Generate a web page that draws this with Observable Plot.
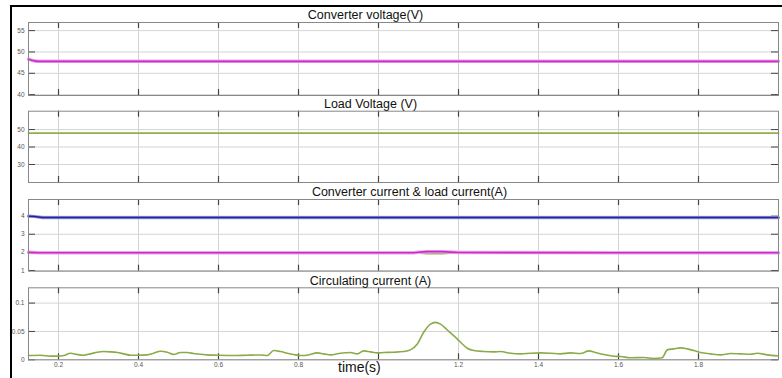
<!DOCTYPE html>
<html><head><meta charset="utf-8">
<script src="https://cdn.jsdelivr.net/npm/d3@7"></script>
<script src="https://cdn.jsdelivr.net/npm/@observablehq/plot@0.6"></script>
<style>
body{margin:0;background:#fff;}
#wrap{position:relative;width:782px;height:378px;overflow:hidden;font-family:"Liberation Sans",Arial,sans-serif;background:#fff;}
#wrap svg{position:absolute;left:0;}
#border{position:absolute;left:10px;top:5px;right:0;bottom:0;border-top:2px solid #000;border-left:2px solid #000;pointer-events:none;}
#xlabel{position:absolute;left:338px;top:359px;font-size:14px;color:#111;}
</style></head>
<body><div id="wrap"><div id="border"></div></div>
<script>
// ---- data ----
const timeTicks = [0.2, 0.4, 0.6, 0.8, 1.0, 1.2, 1.4, 1.6, 1.8];
const timeTickLabels = ["0.2", "0.4", "0.6", "0.8", "", "1.2", "1.4", "1.6", "1.8"];
const titles = ["Converter voltage(V)", "Load Voltage (V)", "Converter current & load current(A)", "Circulating current (A)"];
const xLabel = "time(s)";

const convVoltT = [0.125, 0.135, 0.15, 2.0];
const convVoltV = [48.3, 48.0, 47.8, 47.8];
const convVoltTicks = [40, 45, 50, 55];

const loadVoltT = [0.125, 2.0];
const loadVoltV = [48, 48];
const loadVoltTicks = [30, 40, 50];

const convCurT = [0.125, 0.14, 0.16, 2.0];
const convCurV = [4.0, 3.98, 3.92, 3.92];
const loadCurT = [0.125, 0.15, 1.08, 1.12, 1.16, 1.2, 2.0];
const loadCurMagV = [2.0, 1.98, 1.98, 2.04, 2.04, 1.99, 1.98];
const loadCurGreenV = [1.97, 1.97, 1.97, 1.93, 1.92, 1.97, 1.97];
const curTicks = [1, 2, 3, 4];

const circT = [0.125,0.155,0.18,0.197,0.213,0.23,0.247,0.263,0.28,0.297,0.313,0.33,0.347,0.363,0.38,0.397,0.422,0.438,0.455,0.472,0.488,0.505,0.522,0.538,0.555,0.572,0.597,0.638,0.672,0.705,0.722,0.738,0.755,0.772,0.788,0.805,0.822,0.847,0.863,0.88,0.905,0.93,0.947,0.963,0.98,0.997,1.013,1.038,1.063,1.08,1.097,1.113,1.13,1.1425,1.155,1.172,1.188,1.205,1.222,1.238,1.263,1.288,1.305,1.33,1.355,1.38,1.405,1.43,1.455,1.48,1.505,1.526,1.5425,1.563,1.588,1.605,1.63,1.663,1.688,1.709,1.722,1.738,1.755,1.772,1.788,1.805,1.83,1.855,1.88,1.905,1.93,1.947,1.972,1.997];
const circV = [0.0075,0.0081,0.0064,0.0064,0.0075,0.0116,0.0093,0.0081,0.0105,0.0134,0.0146,0.014,0.0128,0.0105,0.0081,0.0081,0.0087,0.0116,0.0152,0.0134,0.0093,0.0128,0.0128,0.011,0.0099,0.0087,0.0081,0.0075,0.0081,0.0085,0.0075,0.0163,0.0146,0.0116,0.0093,0.0075,0.0081,0.0122,0.0105,0.0087,0.0116,0.0128,0.0105,0.0158,0.014,0.0122,0.0128,0.0134,0.0146,0.0175,0.028,0.0485,0.063,0.066,0.063,0.0526,0.0426,0.031,0.0204,0.0163,0.0146,0.014,0.0146,0.0116,0.0105,0.0116,0.0122,0.0116,0.0105,0.0122,0.011,0.0158,0.0128,0.0093,0.0064,0.0058,0.0035,0.004,0.0023,0.0035,0.0175,0.0193,0.021,0.0193,0.0163,0.0128,0.0105,0.0087,0.011,0.0105,0.0099,0.0116,0.0087,0.007];
const circTicks = [0, 0.05, 0.1];
const circTickLabels = ["0", "0.05", "0.1"];

const zip = (t, v) => t.map((x, i) => ({t: x, v: v[i]}));

const W = 782, ML = 28, MR = 4, PW = W - ML - MR;
const xDomain = [0.125, 2.0];

function panel({svgTop, svgHeight, mt, mb, yDomain, yTicks, yFmt, title, titleX, titleY, lines, showX}) {
  const ph = svgHeight - mt - mb;
  const marks = [
    Plot.gridX(timeTicks, {stroke: "#d4d4d4", strokeOpacity: 1}),
    Plot.gridY(yTicks, {stroke: "#d4d4d4", strokeOpacity: 1}),
    Plot.tickX(timeTicks, {x: d => d, insetTop: ph - 6, stroke: "#444", strokeWidth: 1.2}),
    Plot.tickX(timeTicks, {x: d => d, insetBottom: ph - 6, stroke: "#444", strokeWidth: 1.2}),
    Plot.tickY(yTicks, {y: d => d, insetRight: PW - 7, stroke: "#444"}),
    Plot.tickY(yTicks, {y: d => d, insetLeft: PW - 7, stroke: "#444"}),
    ...lines,
    Plot.frame({stroke: "#888"}),
    Plot.axisY(yTicks, {tickSize: 0, tickPadding: 4, fontSize: 6.5, tickFormat: yFmt, fill: "#555", label: null}),
    Plot.text([title], {frameAnchor: "top", dx: titleX - (ML + PW / 2), dy: titleY - mt, lineAnchor: "middle", fontSize: 12.5, fill: "#111", fontFamily: "Liberation Sans, Arial, sans-serif"})
  ];
  if (showX) {
    marks.push(Plot.axisX(timeTicks, {tickSize: 0, tickPadding: 3, fontSize: 6.5, fill: "#555", label: null, tickFormat: d => timeTickLabels[timeTicks.indexOf(d)]}));
  }
  const svg = Plot.plot({
    width: W, height: svgHeight,
    marginLeft: ML, marginRight: MR, marginTop: mt, marginBottom: mb,
    x: {domain: xDomain, axis: null, label: null},
    y: {domain: yDomain, axis: null, label: null},
    style: {fontFamily: "Liberation Sans, Arial, sans-serif", background: "transparent", overflow: "visible"},
    marks
  });
  svg.style.top = svgTop + "px";
  return svg;
}

const wrap = document.getElementById("wrap");
const border = document.getElementById("border");

const magenta = (data) => [
  Plot.line(data, {x: "t", y: "v", stroke: "#eaa6ea", strokeWidth: 3.5, curve: "monotone-x"}),
  Plot.line(data, {x: "t", y: "v", stroke: "#cc2ccc", strokeWidth: 1.6, curve: "monotone-x"})
];

const p1 = panel({svgTop: 0, svgHeight: 98, mt: 22, mb: 3, yDomain: [39.8, 56.9], yTicks: convVoltTicks, yFmt: d => String(d),
  title: titles[0], titleX: 365, titleY: 14, showX: false,
  lines: magenta(zip(convVoltT, convVoltV))});

const p2 = panel({svgTop: 98, svgHeight: 88, mt: 12.7, mb: 4, yDomain: [19.7, 60.5], yTicks: loadVoltTicks, yFmt: d => String(d),
  title: titles[1], titleX: 370, titleY: 103 - 98, showX: false,
  lines: [Plot.line(zip(loadVoltT, loadVoltV), {x: "t", y: "v", stroke: "#8fb04c", strokeWidth: 1.8})]});

const p3 = panel({svgTop: 186, svgHeight: 89, mt: 13, mb: 4.3, yDomain: [0.96, 4.92], yTicks: curTicks, yFmt: d => String(d),
  title: titles[2], titleX: 409, titleY: 191 - 186, showX: false,
  lines: [
    Plot.line(zip(convCurT, convCurV), {x: "t", y: "v", stroke: "#9090d8", strokeWidth: 3.2}),
    Plot.line(zip(convCurT, convCurV), {x: "t", y: "v", stroke: "#22229a", strokeWidth: 1.5}),
    Plot.line(zip(loadCurT, loadCurGreenV), {x: "t", y: "v", stroke: "#8fb04c", strokeWidth: 1.5, curve: "monotone-x"}),
    ...magenta(zip(loadCurT, loadCurMagV))
  ]});

const p4 = panel({svgTop: 275, svgHeight: 103, mt: 12.3, mb: 18.7, yDomain: [0, 0.127], yTicks: circTicks,
  yFmt: d => circTickLabels[circTicks.indexOf(d)],
  title: titles[3], titleX: 370, titleY: 280 - 275, showX: true,
  lines: [Plot.line(zip(circT, circV), {x: "t", y: "v", stroke: "#8aab4a", strokeWidth: 1.6, curve: "monotone-x"})]});

[p1, p2, p3, p4].forEach(s => wrap.insertBefore(s, border));

const xl = document.createElement("div");
xl.id = "xlabel";
xl.textContent = xLabel;
wrap.appendChild(xl);
</script>
</body></html>
